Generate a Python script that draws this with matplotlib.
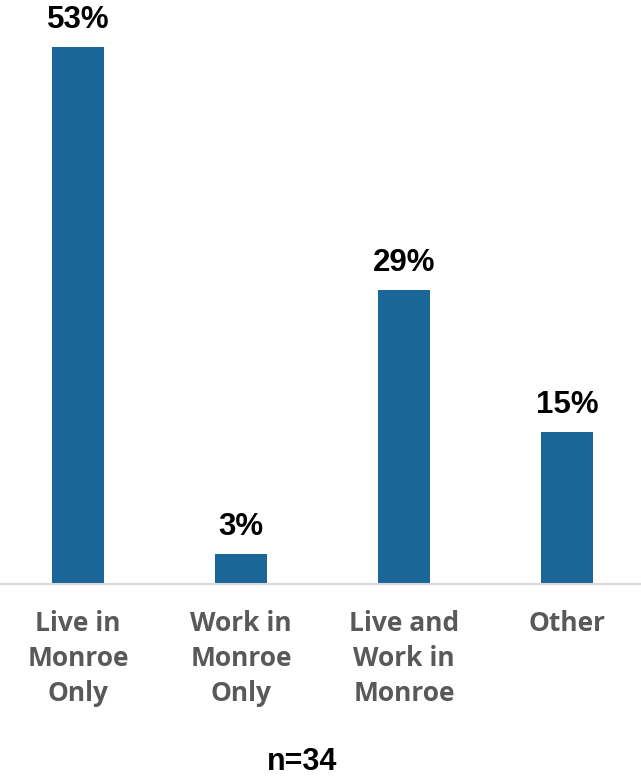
import numpy as np
import matplotlib.pyplot as plt

categories = ["Live in\nMonroe\nOnly", "Work in\nMonroe\nOnly", "Live and\nWork in\nMonroe", "Other"]
values = [53, 3, 29, 15]
value_labels = ["53%", "3%", "29%", "15%"]
note = "n=34"

W, H = 641, 779
fig = plt.figure(figsize=(W / 100, H / 100), dpi=100)

base_px = 584
ax = fig.add_axes([0, (H - base_px) / H, 1, base_px / H])

step = 163.0
x = np.arange(len(categories))
ax.bar(x, values, width=52 / step, color="#1B6699", zorder=2)
ax.set_xlim(-78 / step, (W - 78) / step)
ax.set_ylim(0, base_px / 10.13)

for s in ["top", "right", "left"]:
    ax.spines[s].set_visible(False)
ax.spines["bottom"].set_color("#D9D9D9")
ax.spines["bottom"].set_linewidth(1.5)
ax.set_yticks([])
ax.set_xticks([])

for xi, v, lab in zip(x, values, value_labels):
    ax.annotate(lab, (xi, v), xytext=(0, 13.5), textcoords="offset points",
                ha="center", va="baseline", fontsize=22.5, fontweight="bold",
                family="Liberation Sans", color="black")

for xi, cat in zip(x, categories):
    ax.annotate(cat, (xi, 0), xytext=(0, -19), textcoords="offset points",
                ha="center", va="top", fontsize=19, fontweight="bold",
                family="Open Sans", color="#595959", linespacing=1.38)

fig.text(302 / W, 2 / H, note, ha="center", va="bottom",
         fontsize=22, fontweight="bold", family="Liberation Sans", color="black")

fig.savefig("out.png", dpi=100)
